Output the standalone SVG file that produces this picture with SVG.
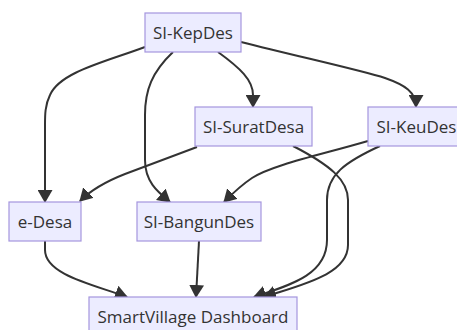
<svg xmlns="http://www.w3.org/2000/svg" width="457" height="330" viewBox="0 0 457 330">
<style>
.node rect{fill:#ECECFF;stroke:#A596DE;stroke-width:1.2}
.node text{font-family:"Open Sans","Liberation Sans",sans-serif;font-size:17px;fill:#333;text-anchor:middle;dominant-baseline:central}
.edge{fill:none;stroke:#333;stroke-width:2;marker-end:url(#arrow)}
</style>
<defs>
<marker id="arrow" markerUnits="userSpaceOnUse" viewBox="0 0 13 15" markerWidth="13" markerHeight="15" refX="12" refY="7.5" orient="auto">
<path d="M0,0 L13,7.5 L0,15 z" fill="#333"/>
</marker>
</defs>
<rect width="457" height="330" fill="#fff"/>
<g id="connectors">
<path class="edge" d="M145,47 C105,62 60,72 50,95 C45,105 45,115 45,125 L45,202"/>
<path class="edge" d="M173,52 C152,72 145,90 145,115 L145,160 C145,182 158,192 170,202"/>
<path class="edge" d="M218,52 C240,68 253,80 253,95 L253,107"/>
<path class="edge" d="M241,42 C300,57 360,70 385,78 C405,85 416,92 416,107"/>
<path class="edge" d="M197,147 L125,174 C102,183 90,191 80,201"/>
<path class="edge" d="M368,141 C320,155 272,165 252,178 C240,186 232,194 224,202"/>
<path class="edge" d="M293,146 C330,165 348,180 348,200 L348,245 C348,275 300,285 264,297"/>
<path class="edge" d="M380,146 C345,162 327,175 327,200 L327,240 C327,275 290,285 254,297"/>
<path class="edge" d="M45,241 L45,250 C45,275 95,285 127,297"/>
<path class="edge" d="M199,241 L196,297"/>
</g>
<g id="SI-KepDes" class="node"><rect x="145" y="13" width="96" height="39"/><text x="193" y="32.5">SI-KepDes</text></g>
<g id="SI-SuratDesa" class="node"><rect x="195" y="107" width="117" height="39"/><text x="253.5" y="126.5">SI-SuratDesa</text></g>
<g id="SI-KeuDes" class="node"><rect x="368" y="107" width="97" height="39"/><text x="416.5" y="126.5">SI-KeuDes</text></g>
<g id="e-Desa" class="node"><rect x="9" y="202" width="72" height="39"/><text x="45" y="221.5">e-Desa</text></g>
<g id="SI-BangunDes" class="node"><rect x="137" y="202" width="124" height="39"/><text x="199" y="221.5">SI-BangunDes</text></g>
<g id="SmartVillage-Dashboard" class="node"><rect x="89" y="297" width="208" height="39"/><text x="193" y="316.5">SmartVillage Dashboard</text></g>
</svg>
